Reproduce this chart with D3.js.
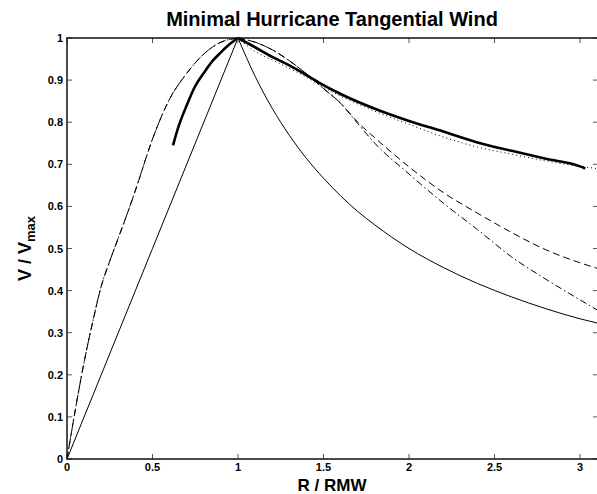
<!DOCTYPE html>
<html>
<head>
<meta charset="utf-8">
<script src="https://cdn.jsdelivr.net/npm/d3@7"></script>
<style>
  body { margin: 0; background: #fff; }
  text { font-family: "Liberation Sans", Arial, sans-serif; font-weight: bold; fill: #000; }
</style>
</head>
<body>
<svg id="chart" width="597" height="494"></svg>
<script>
// values (R / RMW -> V / Vmax)
const rInner = [0, 0.05, 0.1, 0.15, 0.2, 0.25, 0.3, 0.35, 0.4, 0.5, 0.6, 0.7, 0.8, 0.9, 1.0]
const vCurvedInner = [0, 0.12, 0.23, 0.325, 0.41, 0.47, 0.525, 0.58, 0.638, 0.76, 0.855, 0.916, 0.962, 0.99, 1.0]

const rLinear = [0, 0.5, 1.0]
const vLinear = [0, 0.5, 1.0]

const rOuter = [1.0, 1.1, 1.2, 1.3, 1.4, 1.5, 1.6, 1.7, 1.8, 2.0, 2.2, 2.4, 2.6, 2.8, 3.0, 3.1]
const vRankine = [1.0, 0.909, 0.833, 0.769, 0.714, 0.667, 0.625, 0.588, 0.556, 0.5, 0.455, 0.417, 0.385, 0.357, 0.333, 0.323]
const vDashed = [1.0, 0.99, 0.972, 0.946, 0.915, 0.88, 0.845, 0.80, 0.763, 0.694, 0.633, 0.584, 0.538, 0.497, 0.466, 0.453]
const vDashDot = [1.0, 0.99, 0.972, 0.946, 0.915, 0.88, 0.845, 0.797, 0.75, 0.677, 0.608, 0.545, 0.48, 0.427, 0.378, 0.354]

const rThickInner = [0.62, 0.65, 0.7, 0.75, 0.8, 0.85, 0.9, 0.95, 1.0]
const vThickInner = [0.745, 0.787, 0.84, 0.886, 0.917, 0.945, 0.966, 0.985, 1.0]
const rThickOuter = [1.0, 1.1, 1.2, 1.3, 1.4, 1.5, 1.6, 1.8, 2.0, 2.2, 2.4, 2.6, 2.8, 3.0, 3.03]
const vThickOuter = [1.0, 0.978, 0.955, 0.935, 0.912, 0.888, 0.867, 0.832, 0.803, 0.778, 0.752, 0.732, 0.713, 0.695, 0.69]

const rDotted = [1.0, 1.1, 1.2, 1.3, 1.4, 1.5, 1.6, 1.8, 2.0, 2.2, 2.4, 2.6, 2.8, 3.0, 3.1]
const vDotted = [1.0, 0.968, 0.948, 0.928, 0.907, 0.883, 0.862, 0.826, 0.795, 0.765, 0.741, 0.724, 0.708, 0.695, 0.69]

const xTicks = [0, 0.5, 1, 1.5, 2, 2.5, 3]
const yTicks = [0, 0.1, 0.2, 0.3, 0.4, 0.5, 0.6, 0.7, 0.8, 0.9, 1]

const svg = d3.select("#chart")
// right edge of the axes box sits just past the picture, as in the reference
const plotLeft = 67, plotRight = 598, plotTop = 38, plotBottom = 459

const x = d3.scaleLinear().domain([0, 3.105]).range([plotLeft, plotRight])
const y = d3.scaleLinear().domain([0, 1]).range([plotBottom, plotTop])

function zip(rs, vs) {
  return rs.map((r, i) => [r, vs[i]])
}

const line = d3.line()
  .x(d => x(d[0]))
  .y(d => y(d[1]))
  .curve(d3.curveMonotoneX)

const plot = svg.append("g")

function drawCurve(data, width, dash) {
  plot.append("path")
    .datum(data)
    .attr("d", line)
    .attr("fill", "none")
    .attr("stroke", "#000")
    .attr("stroke-width", width)
    .attr("stroke-dasharray", dash)
}

// thin solid: linear inside, 1/r outside
drawCurve(zip(rLinear, vLinear), 1, null)
drawCurve(zip(rOuter, vRankine), 1, null)
// dashed and dash-dot share the inner branch
drawCurve(zip(rInner, vCurvedInner), 1, "7,4")
drawCurve(zip(rOuter, vDashed), 1, "7,4")
drawCurve(zip(rInner, vCurvedInner), 1, "7,3,1.5,3")
drawCurve(zip(rOuter, vDashDot), 1, "7,3,1.5,3")
// dotted
drawCurve(zip(rDotted, vDotted), 1, "1,3")
// thick solid
drawCurve(zip(rThickInner, vThickInner), 2.6, null)
drawCurve(zip(rThickOuter, vThickOuter), 2.6, null)

// axes, matlab style ticks pointing inward on all four sides
const tickLen = 5
const axes = svg.append("g")
axes.selectAll(".xt").data(xTicks).enter().append("path")
  .attr("d", d => `M${x(d)},${plotBottom}v${-tickLen}M${x(d)},${plotTop}v${tickLen}`)
  .attr("stroke", "#555").attr("stroke-width", 1)
axes.selectAll(".yt").data(yTicks).enter().append("path")
  .attr("d", d => `M${plotLeft},${y(d)}h${tickLen}M${plotRight},${y(d)}h${-tickLen}`)
  .attr("stroke", "#555").attr("stroke-width", 1)

axes.append("rect")
  .attr("x", plotLeft).attr("y", plotTop)
  .attr("width", plotRight - plotLeft).attr("height", plotBottom - plotTop)
  .attr("fill", "none").attr("stroke", "#111").attr("stroke-width", 1.5)

axes.selectAll(".xl").data(xTicks).enter().append("text")
  .attr("x", d => x(d))
  .attr("y", plotBottom + 12)
  .attr("text-anchor", "middle")
  .attr("font-size", "11px")
  .text(d => d)

axes.selectAll(".yl").data(yTicks).enter().append("text")
  .attr("x", plotLeft - 4)
  .attr("y", d => y(d) + 4)
  .attr("text-anchor", "end")
  .attr("font-size", "11px")
  .text(d => d)

svg.append("text")
  .attr("x", 332)
  .attr("y", 26)
  .attr("text-anchor", "middle")
  .attr("font-size", "20px")
  .text("Minimal Hurricane Tangential Wind")

svg.append("text")
  .attr("x", 332)
  .attr("y", 491)
  .attr("text-anchor", "middle")
  .attr("font-size", "17px")
  .text("R / RMW")

const ylab = svg.append("text")
  .attr("transform", `translate(31,${(plotTop + plotBottom) / 2}) rotate(-90)`)
  .attr("text-anchor", "middle")
  .attr("font-size", "18px")
ylab.append("tspan").text("V / V")
ylab.append("tspan").attr("font-size", "13px").attr("dy", 4).text("max")
</script>
</body>
</html>
